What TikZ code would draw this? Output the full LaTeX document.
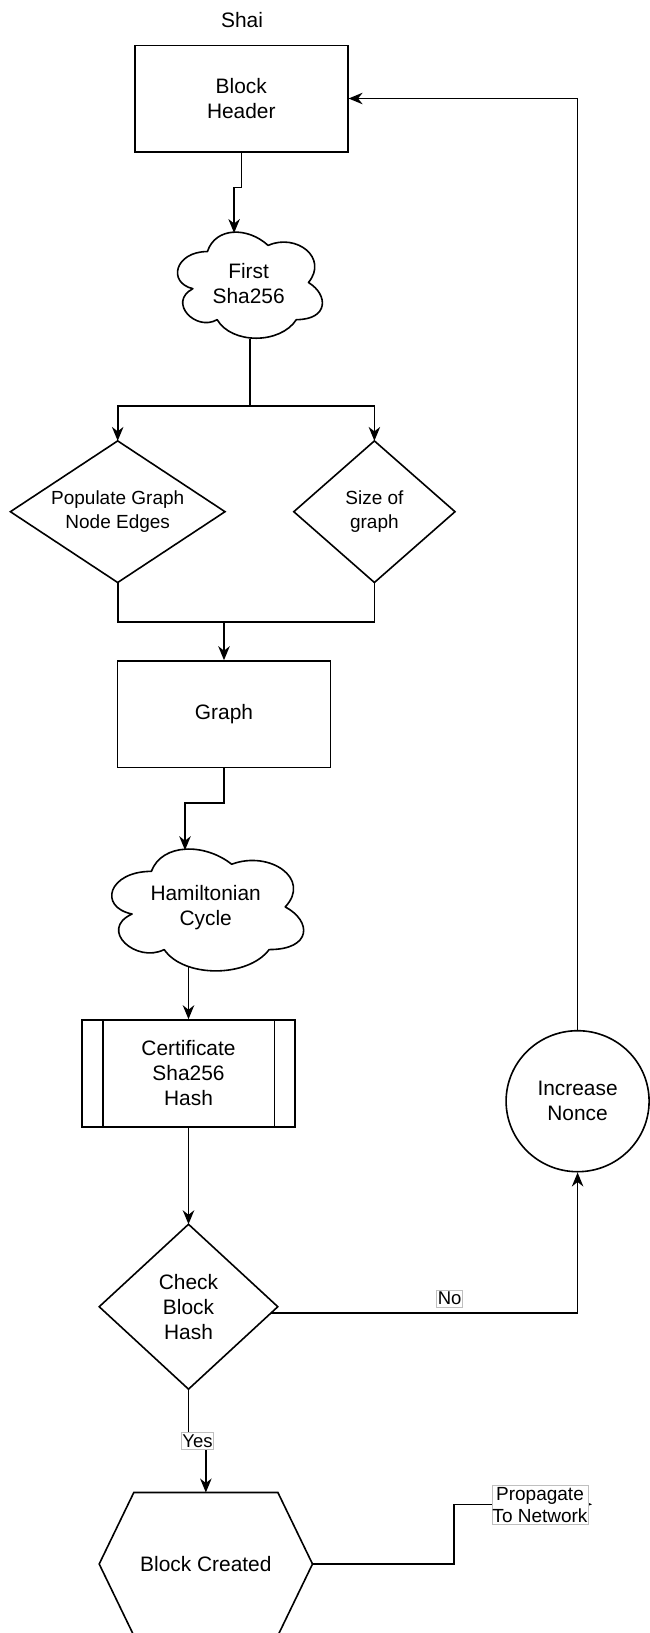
\documentclass[tikz,border=0pt]{standalone}
\usepackage{fontspec}
\setmainfont{Liberation Sans}
\usetikzlibrary{shapes.geometric, arrows.meta, calc}

\begin{document}
\begin{tikzpicture}[x=1pt, y=-1pt,
  line width=1.6pt,
  every node/.style={font=\fontsize{20.9}{25}\selectfont, align=center, inner sep=0pt},
  box/.style={draw, rectangle, minimum width=213pt, minimum height=106.4pt},
  hold/.style={rectangle, draw=none},
  small/.style={font=\fontsize{19}{24}\selectfont},
  lab/.style={draw=black!25, line width=0.8pt, fill=white, inner xsep=1.2pt, inner ysep=2pt, font=\fontsize{18.5}{21.7}\selectfont},
  arr/.style={-{Stealth[length=14pt, width=11.5pt, inset=4.5pt]}},
  cloudline/.style={line width=1.6pt, line join=round}
]
\useasboundingbox (0,0) rectangle (650,1633);
\fill[white] (0,0) rectangle (650,1633);

% ---- nodes ----
\node (title) at (242,20) {Shai};
\node[box] (bh) at (241.3,98.5) {Block\\Header};

\node[hold, minimum width=161.7pt, minimum height=123.8pt] (c1) at (248.65,283.3) {First\\Sha256};
\draw[cloudline, shift={(c1.north west)}, x=161.7pt, y=-123.8pt]
  (0.25,0.25) .. controls (0.05,0.25) and (0,0.5) .. (0.16,0.55)
  .. controls (0,0.66) and (0.18,0.9) .. (0.31,0.8)
  .. controls (0.4,1) and (0.7,1) .. (0.8,0.8)
  .. controls (1,0.8) and (1,0.6) .. (0.875,0.5)
  .. controls (1,0.3) and (0.8,0.1) .. (0.625,0.2)
  .. controls (0.5,0.05) and (0.3,0.05) .. (0.25,0.25) -- cycle;

\node[hold, small, minimum width=213pt, minimum height=140pt] (pg) at (117.7,511.7) {Populate Graph\\Node Edges};
\draw (pg.north) -- (pg.east) -- (pg.south) -- (pg.west) -- cycle;
\node[hold, small, minimum width=159.6pt, minimum height=140pt] (sg) at (374.4,511.7) {Size of\\graph};
\draw (sg.north) -- (sg.east) -- (sg.south) -- (sg.west) -- cycle;

\node[box] (graph) at (224,714.2) {Graph};

\node[hold, minimum width=214.2pt, minimum height=142.2pt] (c2) at (205.7,907.7) {Hamiltonian\\Cycle};
\draw[cloudline, shift={(c2.north west)}, x=214.2pt, y=-142.2pt]
  (0.25,0.25) .. controls (0.05,0.25) and (0,0.5) .. (0.16,0.55)
  .. controls (0,0.66) and (0.18,0.9) .. (0.31,0.8)
  .. controls (0.4,1) and (0.7,1) .. (0.8,0.8)
  .. controls (1,0.8) and (1,0.6) .. (0.875,0.5)
  .. controls (1,0.3) and (0.8,0.1) .. (0.625,0.2)
  .. controls (0.5,0.05) and (0.3,0.05) .. (0.25,0.25) -- cycle;

\node[box, minimum width=212.6pt, minimum height=106.7pt] (cert) at (188.5,1073.35) {Certificate\\Sha256\\Hash};
\draw ($(cert.north west)+(21.3,0)$) -- ($(cert.south west)+(21.3,0)$);
\draw ($(cert.north east)+(-21.3,0)$) -- ($(cert.south east)+(-21.3,0)$);

\node[draw, ellipse, minimum width=143pt, minimum height=141pt] (nonce) at (577.6,1101.2) {Increase\\Nonce};

\node[hold, minimum width=177pt, minimum height=163.3pt] (chk) at (188.5,1306.7) {Check\\Block\\Hash};
\draw (chk.north) -- (chk.east) -- (chk.south) -- (chk.west) -- cycle;

\node[hold, minimum width=211.7pt, minimum height=141.4pt] (bc) at (205.85,1564) {Block Created};
\draw ($(bc.north west)+(34.6,0)$) -- ($(bc.north east)+(-34.6,0)$) -- (bc.east)
  -- ($(bc.south east)+(-34.6,0)$) -- ($(bc.south west)+(34.6,0)$) -- (bc.west) -- cycle;

% ---- boundary coordinates ----
\coordinate (c1t) at (234.1,233);
\coordinate (c1b) at (250,338.6);
\coordinate (split) at (250,406);
\coordinate (join) at (224,621.7);
\coordinate (c2t) at (185,850.2);
\coordinate (c2b) at (188.5,967.1);
\coordinate (chkr) at (270.5,1312.7);
\coordinate (pend) at (592,1504.3);

% ---- connectors ----
\draw[arr] (nonce.north) |- (bh.east);
\draw[arr] (bh.south) -- ++(0,35) -| (c1t);
\draw (c1b) -- (split);
\draw[arr] (split) -| (pg.north);
\draw[arr] (split) -| (sg.north);
\draw (pg.south) -- (pg.south |- join) -- (sg.south |- join) -- (sg.south);
\draw[arr] (join) -- (graph.north);
\draw[arr] (graph.south) -- ++(0,35) -| (c2t);
\draw[arr] (c2b) -- (cert.north);
\draw[arr] (cert.south) -- (chk.north);
\draw[arr] (chkr) -| (nonce.south);
\draw[arr] (chk.south) -- ++(0,52.7) -| (bc.north);
\draw[arr] (bc.east) -- ++(141.6,0) |- (pend);

% ---- labels ----
\node[lab] (no) at (449.6,1298.5) {No};
\node[lab] (yes) at (197.5,1441.3) {Yes};
\node[lab, inner xsep=0.5pt, font=\fontsize{19}{21.7}\selectfont] (prop) at (540,1505) {Propagate\\To Network};
\end{tikzpicture}
\end{document}
